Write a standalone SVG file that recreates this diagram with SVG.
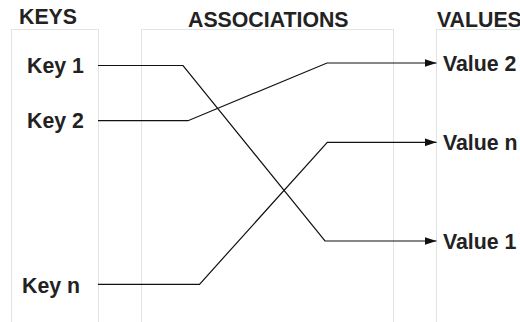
<svg xmlns="http://www.w3.org/2000/svg" width="520" height="322" viewBox="0 0 520 322">
<style>
.col{fill:none;stroke:#e3e3e3;stroke-width:1}
.t{font-family:"Liberation Sans",Arial,sans-serif;font-weight:bold;font-size:21.3px;fill:#222}
.c{fill:none;stroke:#111;stroke-width:1.2}
</style>
<defs>
<marker id="ah" markerWidth="12" markerHeight="8" refX="12" refY="4" orient="auto" markerUnits="userSpaceOnUse">
<path d="M0,0 L12,4 L0,8 Z" fill="#111"/>
</marker>
</defs>
<rect width="520" height="322" fill="#fff"/>
<g id="col-keys">
<rect class="col" x="11.5" y="29.5" width="87" height="300"/>
<text class="t" x="19" y="24">KEYS</text>
</g>
<g id="col-assoc">
<rect class="col" x="141.5" y="29.5" width="252" height="300"/>
<text class="t" x="188" y="26.7">ASSOCIATIONS</text>
</g>
<g id="col-values">
<rect class="col" x="436.5" y="29.5" width="100" height="300"/>
<text class="t" x="437" y="26.7">VALUES</text>
</g>
<g id="key1"><text class="t" x="27" y="73.3">Key 1</text></g>
<g id="key2"><text class="t" x="27" y="128.3">Key 2</text></g>
<g id="keyn"><text class="t" x="22" y="292.7">Key n</text></g>
<g id="value2"><text class="t" x="443" y="70.5">Value 2</text></g>
<g id="valuen"><text class="t" x="443" y="150">Value n</text></g>
<g id="value1"><text class="t" x="443" y="248.5">Value 1</text></g>
<g id="connectors">
<polyline class="c" points="98,65.5 183,65.5 325,241 436.5,241" marker-end="url(#ah)"/>
<polyline class="c" points="98,120.7 188,120.7 327,63 436.5,63" marker-end="url(#ah)"/>
<polyline class="c" points="98,284.3 199.5,284.3 327.3,142.3 436.5,142.3" marker-end="url(#ah)"/>
</g>
</svg>
